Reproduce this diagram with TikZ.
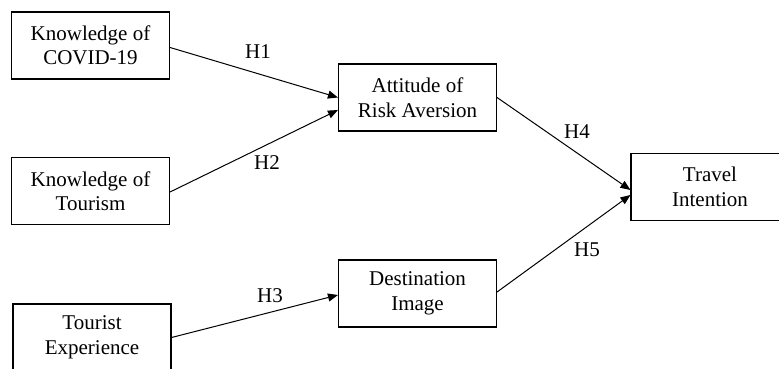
\documentclass[tikz,border=0pt]{standalone}
\usepackage{fontspec}
\setmainfont{Liberation Serif}
\usetikzlibrary{arrows.meta}
\begin{document}
\begin{tikzpicture}[x=1pt,y=-1pt,
  varbox/.style={draw=black, line width=1.1pt, minimum width=158pt, minimum height=67pt,
    inner sep=0pt, align=center, font=\fontsize{21}{24.5}\selectfont, fill=white},
  hlabel/.style={inner sep=0pt, font=\fontsize{21}{24.5}\selectfont},
  path/.style={draw=black, line width=1pt, -{Triangle[length=10pt,width=8pt]}}]
\useasboundingbox (0,0) rectangle (779,369);
\node[varbox] (covid) at (90.5,45.5) {Knowledge of\\COVID-19};
\node[varbox] (tour) at (90.5,191) {Knowledge of\\Tourism};
\node[varbox] (exp) at (92,337.5) {Tourist\\Experience};
\node[varbox] (att) at (417.5,97.5) {Attitude of\\Risk Aversion};
\node[varbox] (dest) at (417.5,293.5) {Destination\\Image};
\node[varbox] (travel) at (710,187) {Travel\\Intention};
\draw[path] ([yshift=-2pt]covid.east) -- ([yshift=0pt]att.west);
\draw[path] ([yshift=-1pt]tour.east) -- ([yshift=-12.5pt]att.west);
\draw[path] ([yshift=0pt]exp.east) -- ([yshift=-1.5pt]dest.west);
\draw[path] ([yshift=0pt]att.east) -- ([yshift=-3pt]travel.west);
\draw[path] ([yshift=1.5pt]dest.east) -- ([yshift=-8pt]travel.west);
\node[hlabel] (h1) at (258,52) {H1};
\node[hlabel] (h2) at (267,163) {H2};
\node[hlabel] (h3) at (270,296) {H3};
\node[hlabel] (h4) at (577,132) {H4};
\node[hlabel] (h5) at (587,250) {H5};
\end{tikzpicture}
\end{document}
